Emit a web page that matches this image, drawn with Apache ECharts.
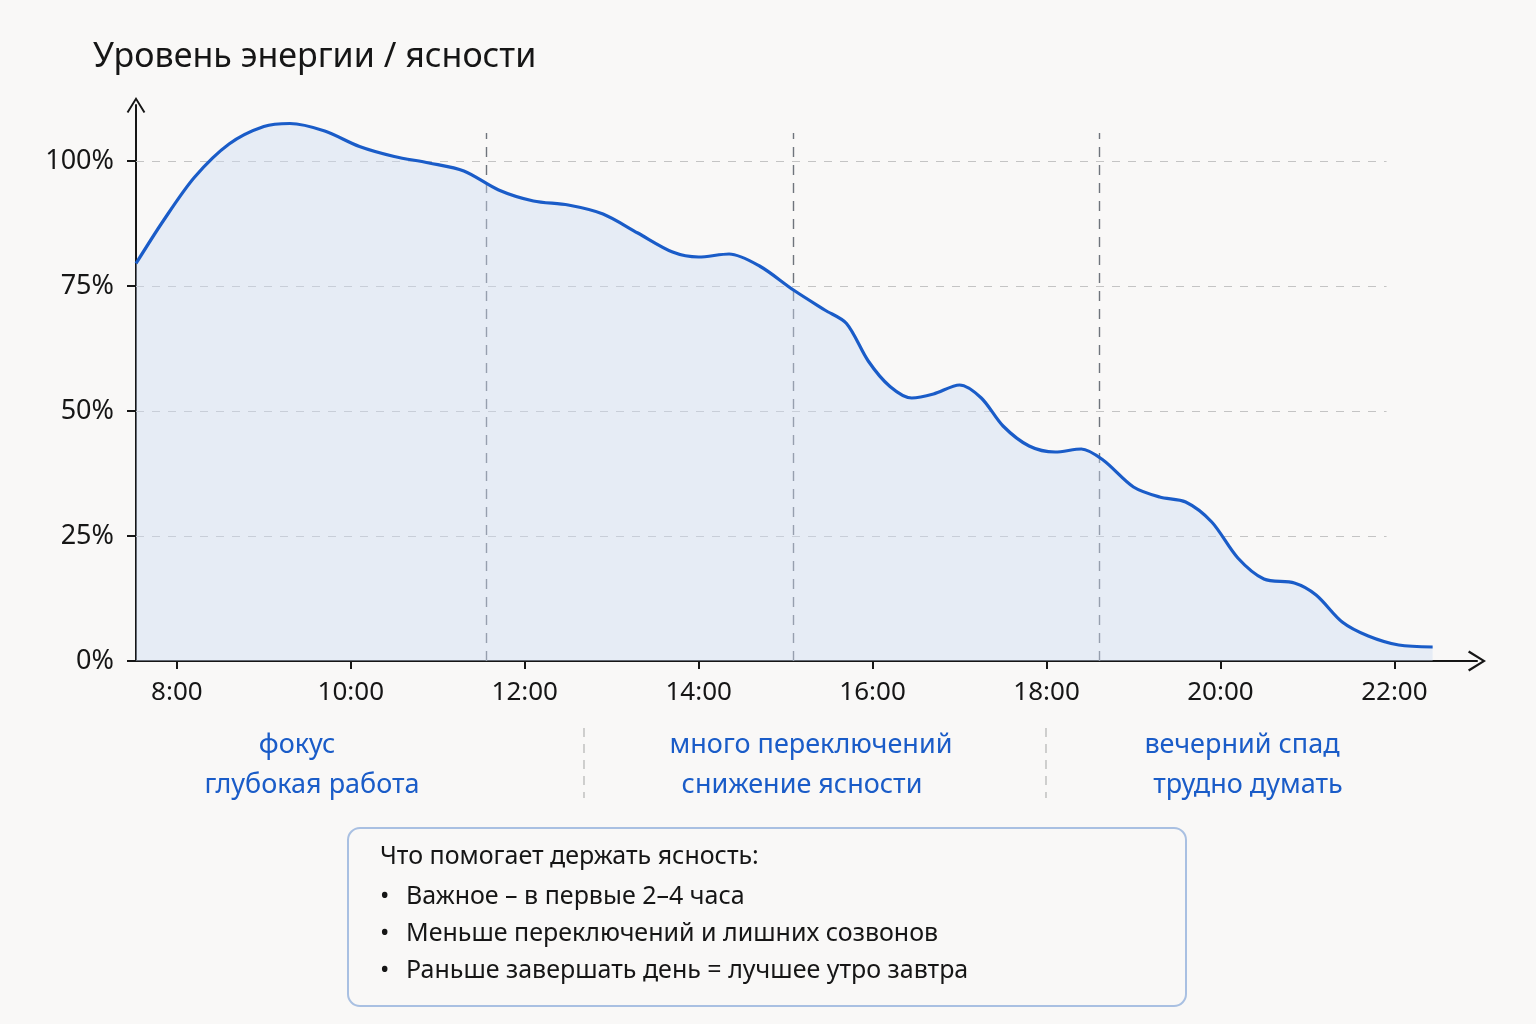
<!DOCTYPE html>
<html>
<head>
<meta charset="utf-8">
<title>Уровень энергии / ясности</title>
<script src="https://cdn.jsdelivr.net/npm/echarts@6/dist/echarts.min.js"></script>
<style>
  html, body { margin: 0; padding: 0; background: #f9f8f7; }
  #chart { width: 1536px; height: 1024px; }
</style>
</head>
<body>
<div id="chart"></div>
<script>
// часы (десятичные) и уровень энергии, %
const hours = [7.53, 7.85, 8.2, 8.6, 9.0, 9.3, 9.7, 10.1, 10.5, 10.9, 11.3, 11.7, 12.1, 12.5, 12.9,
  13.3, 13.7, 14.0, 14.35, 14.7, 15.09, 15.45, 15.7, 15.95, 16.2, 16.45, 16.7, 17.0, 17.25, 17.5, 17.8,
  18.1, 18.4, 18.65, 19.0, 19.3, 19.6, 19.9, 20.2, 20.5, 20.85, 21.1, 21.4, 21.7, 22.05, 22.44]
const energy = [79.5, 88.2, 96.7, 103.4, 106.9, 107.5, 106.0, 102.9, 100.9, 99.6, 98.0, 94.2, 92.0, 91.2, 89.4,
  85.6, 81.8, 80.8, 81.4, 79.0, 74.2, 70.2, 67.5, 60.0, 54.9, 52.6, 53.4, 55.2, 52.6, 47.0, 43.0,
  41.8, 42.4, 40.2, 34.8, 32.8, 31.8, 27.8, 20.6, 16.4, 15.6, 13.2, 7.8, 5.0, 3.2, 2.8]

const xTicks = [8, 10, 12, 14, 16, 18, 20, 22]
const yTicks = [0, 25, 50, 75, 100]
const gridTicks = [25, 50, 75, 100]
const phaseBorders = [11.56, 15.09, 18.61]

const phaseLabels = [
  ['фокус', 'глубокая работа'],
  ['много переключений', 'снижение ясности'],
  ['вечерний спад', 'трудно думать']
]
const tipsTitle = 'Что помогает держать ясность:'
const tips = [
  'Важное – в первые 2–4 часа',
  'Меньше переключений и лишних созвонов',
  'Раньше завершать день = лучшее утро завтра'
]

const X_MIN = 7.53
const X_MAX = 22.95
const GRID_END = 21.91
const FONT = '"Noto Sans", "DejaVu Sans", sans-serif'
const INK = '#161616'
const BLUE = '#1a5cc8'

const arrow = 'path://M0,16 L10,0 L20,16 L18.2,17.2 L10,3.8 L1.8,17.2 Z'

const chart = echarts.init(document.getElementById('chart'))

const hLines = gridTicks.map(v => [
  { coord: [X_MIN, v], lineStyle: { color: '#c4c4c4', type: [8, 8], width: 1.2 } },
  { coord: [GRID_END, v] }
])
const vLines = phaseBorders.map(h => [
  { coord: [h, 0], lineStyle: { color: '#6f747c', type: [10, 8], width: 1.4 } },
  { coord: [h, 105.6] }
])

// подписи фаз и блок с советами
const graphics = []
const phaseCenters = [[297, 312], [811, 802], [1242, 1248]]
phaseLabels.forEach((lines, i) => {
  lines.forEach((t, j) => {
    graphics.push({
      type: 'text',
      x: phaseCenters[i][j],
      y: 745 + j * 40,
      style: { text: t, fill: BLUE, font: '27px ' + FONT, align: 'center', verticalAlign: 'middle' }
    })
  })
})
;[584, 1046].forEach(x => {
  graphics.push({
    type: 'line',
    shape: { x1: x, y1: 728, x2: x, y2: 798 },
    style: { stroke: '#b8b8b8', lineWidth: 1.3, lineDash: [9, 7] }
  })
})
graphics.push({
  type: 'rect',
  shape: { x: 348, y: 828, width: 838, height: 178, r: 12 },
  style: { fill: '#f9f8f7', stroke: '#a9c0e2', lineWidth: 2 }
})
graphics.push({
  type: 'text',
  x: 380,
  y: 857,
  style: { text: tipsTitle, fill: INK, font: '25px ' + FONT, verticalAlign: 'middle' }
})
tips.forEach((t, i) => {
  graphics.push({
    type: 'text',
    x: 380,
    y: 897 + i * 37,
    style: { text: '•', fill: INK, font: '25px ' + FONT, verticalAlign: 'middle' }
  })
  graphics.push({
    type: 'text',
    x: 406,
    y: 897 + i * 37,
    style: { text: t, fill: INK, font: '25px ' + FONT, verticalAlign: 'middle' }
  })
})

chart.setOption({
  backgroundColor: '#f9f8f7',
  animation: false,
  title: {
    text: 'Уровень энергии / ясности',
    left: 88,
    top: 35,
    textStyle: { fontFamily: FONT, fontSize: 34, fontWeight: 'normal', color: INK }
  },
  grid: {
    left: 136,
    right: 1536 - 1477,
    top: 105,
    bottom: 1024 - 661
  },
  xAxis: {
    type: 'value',
    min: X_MIN,
    max: X_MAX,
    splitLine: { show: false },
    axisLine: {
      lineStyle: { color: INK, width: 2 },
      symbol: ['none', arrow],
      symbolSize: [22, 18]
    },
    axisTick: {
      customValues: xTicks,
      length: 8,
      lineStyle: { color: INK, width: 2 }
    },
    axisLabel: {
      customValues: xTicks,
      margin: 19,
      color: INK,
      fontFamily: FONT,
      fontSize: 26,
      formatter: v => Math.round(v) + ':00'
    }
  },
  yAxis: {
    type: 'value',
    min: 0,
    max: 111.2,
    splitLine: { show: false },
    axisLine: {
      show: true,
      lineStyle: { color: INK, width: 2 },
      symbol: ['none', arrow],
      symbolSize: [20, 16]
    },
    axisTick: {
      show: true,
      customValues: yTicks,
      length: 9,
      lineStyle: { color: INK, width: 2 }
    },
    axisLabel: {
      customValues: yTicks,
      margin: 22,
      color: INK,
      fontFamily: FONT,
      fontSize: 27,
      formatter: v => v + '%'
    }
  },
  series: [
    {
      type: 'line',
      data: hours.map((h, i) => [h, energy[i]]),
      smooth: 0.3,
      showSymbol: false,
      lineStyle: { color: BLUE, width: 3.2 },
      areaStyle: { color: 'rgba(205, 220, 242, 0.6)' },
      z: 3,
      markLine: {
        silent: true,
        symbol: 'none',
        label: { show: false },
        z: 1,
        data: hLines.concat(vLines)
      }
    }
  ],
  graphic: graphics
})
</script>
</body>
</html>
